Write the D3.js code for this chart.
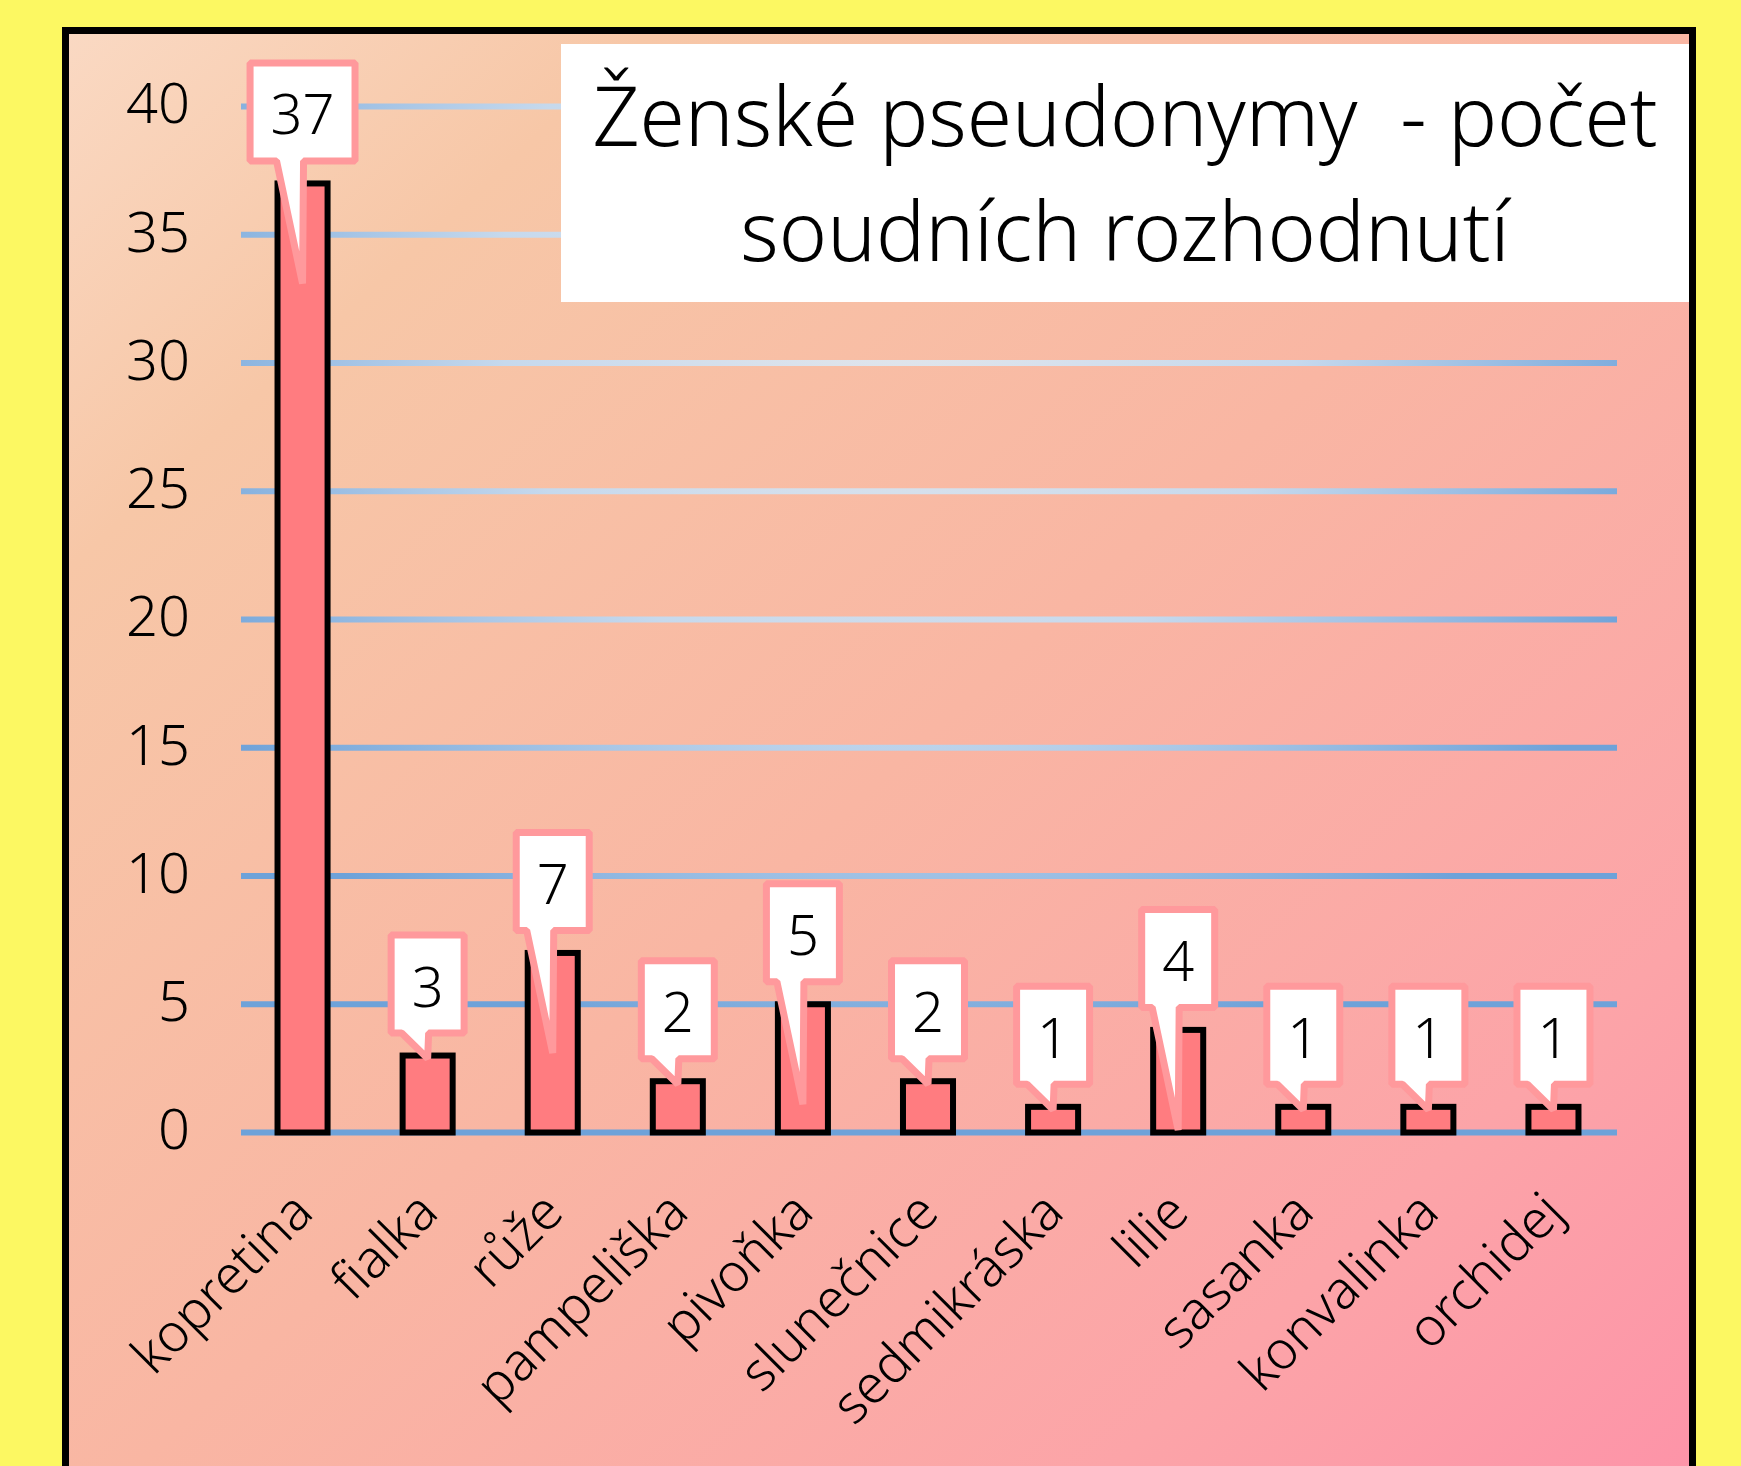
<!DOCTYPE html>
<html lang="cs">
<head>
<meta charset="UTF-8">
<title>Ženské pseudonymy</title>
<script src="https://d3js.org/d3.v7.min.js"></script>
<style>
  html, body { margin: 0; padding: 0; background: #fcf862; overflow: hidden; }
  text { font-family: 'Noto Sans', 'Open Sans', sans-serif; font-weight: 350; fill: #000; }
</style>
</head>
<body>
<script>
  const categories = ["kopretina", "fialka", "růže", "pampeliška", "pivoňka", "slunečnice",
                      "sedmikráska", "lilie", "sasanka", "konvalinka", "orchidej"];
  const values = [37, 3, 7, 2, 5, 2, 1, 4, 1, 1, 1];
  const yTicks = [0, 5, 10, 15, 20, 25, 30, 35, 40];
  const titleLines = ["Ženské pseudonymy  - počet", "soudních rozhodnutí"];

  const W = 1741, H = 1466;

  const svg = d3.select("body").append("svg")
      .attr("width", W).attr("height", H);

  const defs = svg.append("defs");

  const bg = defs.append("linearGradient").attr("id", "bg")
      .attr("x1", 0).attr("y1", 0).attr("x2", 1).attr("y2", 1);
  bg.append("stop").attr("offset", 0).attr("stop-color", "#fad9c3");
  bg.append("stop").attr("offset", 0.18).attr("stop-color", "#f7c7a7");
  bg.append("stop").attr("offset", 0.5).attr("stop-color", "#f9b6a3");
  bg.append("stop").attr("offset", 0.8).attr("stop-color", "#fca4a8");
  bg.append("stop").attr("offset", 1).attr("stop-color", "#fd92a8");

  const gridGrad = defs.append("radialGradient").attr("id", "grid")
      .attr("gradientUnits", "userSpaceOnUse")
      .attr("cx", 900).attr("cy", 300).attr("r", 800);
  gridGrad.append("stop").attr("offset", 0).attr("stop-color", "#e3e6eb");
  gridGrad.append("stop").attr("offset", 0.5).attr("stop-color", "#c6d9ed");
  gridGrad.append("stop").attr("offset", 1).attr("stop-color", "#6ea2d9");

  // frame
  svg.append("rect")
      .attr("x", 65.5).attr("y", 30.5)
      .attr("width", 1627).attr("height", 1500)
      .attr("fill", "url(#bg)")
      .attr("stroke", "#000").attr("stroke-width", 7);

  const x = d3.scaleBand()
      .domain(categories)
      .range([240, 1616])
      .paddingInner(0.6)
      .paddingOuter(0.3);

  const y = d3.scaleLinear()
      .domain([0, 40])
      .range([1132.5, 106.5]);

  // gridlines
  svg.append("g").selectAll("line")
      .data(yTicks).join("line")
      .attr("x1", 241).attr("x2", 1617)
      .attr("y1", d => y(d)).attr("y2", d => y(d))
      .attr("stroke", "url(#grid)")
      .attr("stroke-width", 6);

  // y labels
  const yAxis = svg.append("g")
      .attr("transform", "translate(190,0)")
      .call(d3.axisLeft(y).tickValues(yTicks).tickSize(0).tickPadding(0));
  yAxis.select(".domain").remove();
  yAxis.selectAll("text")
      .attr("dy", "0.29em")
      .style("font-size", "56px")
      .style("font-family", "'Noto Sans', sans-serif")
      .style("font-weight", 350)
      .attr("fill", "#000");

  // bars
  svg.append("g").selectAll("rect")
      .data(values).join("rect")
      .attr("x", (d, i) => x(categories[i]))
      .attr("width", x.bandwidth())
      .attr("y", d => y(d))
      .attr("height", d => y(0) - y(d))
      .attr("fill", "#ff7c80")
      .attr("stroke", "#000")
      .attr("stroke-width", 6);

  // callouts
  const callouts = svg.append("g").selectAll("g")
      .data(values).join("g");

  callouts.each(function(d, i) {
    const g = d3.select(this);
    const cx = x(categories[i]) + x.bandwidth() / 2;
    const top = y(d);
    const txt = g.append("text")
        .attr("x", cx)
        .attr("text-anchor", "middle")
        .style("font-size", "56px")
        .text(d);
    const tw = txt.node().getComputedTextLength();
    const sw = 7;
    const outerBottom = top - 19;
    const outerW = tw + 48;
    const outerH = 105;
    const l = cx - outerW / 2 + sw / 2, r = cx + outerW / 2 - sw / 2;
    const t = outerBottom - outerH + sw / 2, b = outerBottom - sw / 2;
    const drop = d > 3 ? Math.min(100, y(0) - top) : 3;
    const tipY = top + drop;
    const path = d3.path();
    path.moveTo(l, t);
    path.lineTo(r, t);
    path.lineTo(r, b);
    path.lineTo(cx + 1, b);
    path.lineTo(cx, tipY);
    path.lineTo(cx - 26, b);
    path.lineTo(l, b);
    path.closePath();
    g.insert("path", "text")
        .attr("d", path.toString())
        .attr("fill", "#fff")
        .attr("stroke", "#ff999c")
        .attr("stroke-width", sw)
        .attr("stroke-linejoin", "bevel");
    txt.attr("y", outerBottom - 30);
  });

  // category labels
  svg.append("g").selectAll("text")
      .data(categories).join("text")
      .attr("transform", d => `translate(${x(d) + x.bandwidth() / 2 + 13},1215) rotate(-45)`)
      .attr("text-anchor", "end")
      .style("font-size", "53px")
      .text(d => d);

  // title
  svg.append("rect")
      .attr("x", 561).attr("y", 44)
      .attr("width", 1689 - 561).attr("height", 258)
      .attr("fill", "#fff");

  svg.append("g").selectAll("text")
      .data(titleLines).join("text")
      .attr("x", 1125)
      .attr("y", (d, i) => 146 + i * 115)
      .attr("text-anchor", "middle")
      .style("font-size", "82px")
      .style("white-space", "pre")
      .text(d => d);
</script>
</body>
</html>
